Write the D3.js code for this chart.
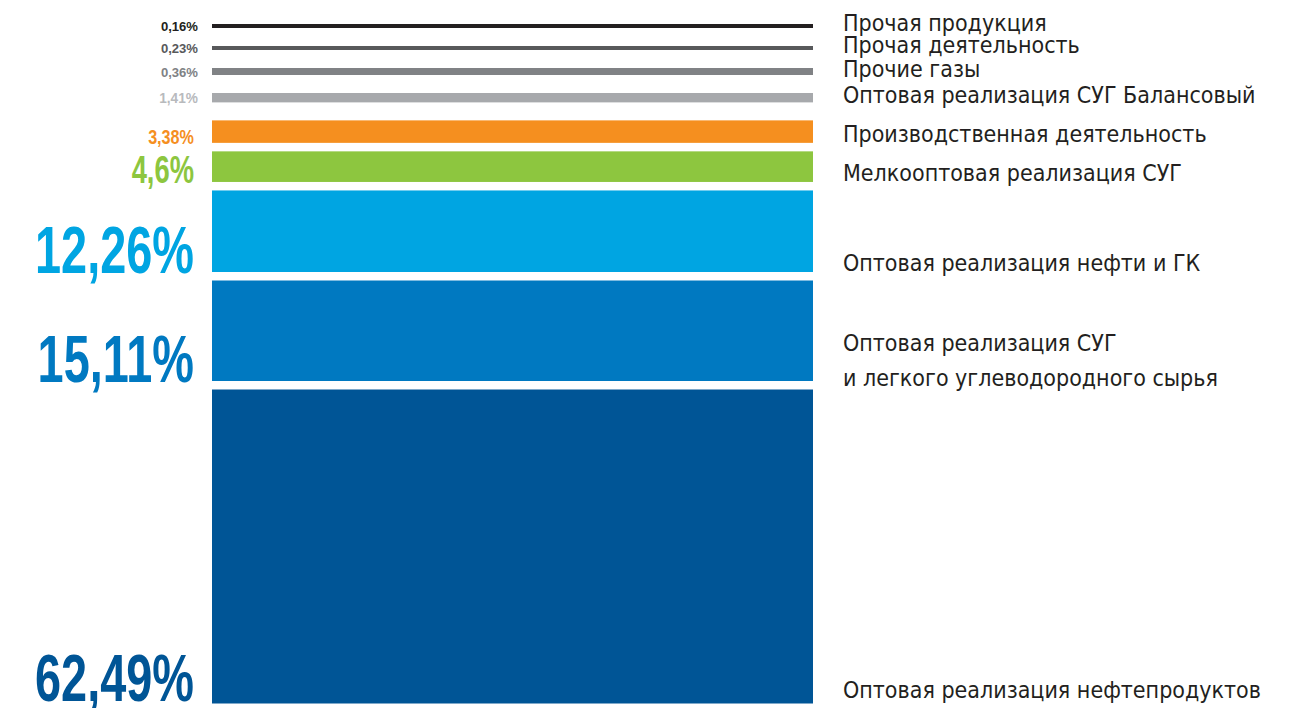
<!DOCTYPE html>
<html>
<head>
<meta charset="utf-8">
<script src="https://cdn.jsdelivr.net/npm/d3@7"></script>
<style>
   html, body { margin: 0; padding: 0; background: #fff; }
</style>
</head>
<body>
<div id="chartContainer"></div>
<script>
'use strict';

// data, top row to bottom row
var categories = [
   "Прочая продукция",
   "Прочая деятельность",
   "Прочие газы",
   "Оптовая реализация СУГ Балансовый",
   "Производственная деятельность",
   "Мелкооптовая реализация СУГ",
   "Оптовая реализация нефти и ГК",
   "Оптовая реализация СУГ\nи легкого углеводородного сырья",
   "Оптовая реализация нефтепродуктов"
];
var shares = [0.16, 0.23, 0.36, 1.41, 3.38, 4.6, 12.26, 15.11, 62.49];
var colors = ["#231f20", "#58595b", "#808285", "#a7a9ac", "#f58f1f", "#8dc63f", "#00a5e2", "#0079c1", "#005596"];

var width = 1301,
   height = 708;

var svg = d3.select("#chartContainer")
   .append("svg")
   .attr("width", width)
   .attr("height", height);

// row thickness: linear up to 15%, compressed above, small rows get a minimum stroke
var hScale = d3.scaleLinear()
   .domain([0, 15.11, 62.49])
   .range([0, 100.5, 314]);
var minThick = d3.scaleThreshold()
   .domain([0.3, 2])
   .range([4, 7, 0]);

var xScale = d3.scaleLinear()
   .domain([0, 1])
   .range([212, 813]);

// stack the rows from the top
var rows = [];
var y = 24;
shares.forEach(function (v, i) {
   var h = Math.max(hScale(v), minThick(v));
   rows.push({ name: categories[i], value: v, color: colors[i], y: y, h: h });
   y += h + (h < 10 ? 18 : 8.5);
});

var fmt = function (v) { return String(v).replace(".", ",") + "%"; };

// size of the percent label follows the row thickness
var labelSize = d3.scaleLinear()
   .domain([7, 22.5, 30.6, 81.5])
   .range([13.5, 19.5, 38, 67])
   .clamp(true);
// horizontal squeeze to get a condensed look out of Liberation Sans Bold
var labelSqueeze = d3.scaleLinear()
   .domain([7, 22.5, 30.6, 81.5])
   .range([0.97, 0.83, 0.72, 0.70])
   .clamp(true);

svg.append("g")
   .attr("class", "bars")
   .selectAll("rect")
   .data(rows)
   .enter()
   .append("rect")
   .attr("x", xScale(0))
   .attr("y", function (d) { return d.y; })
   .attr("width", xScale(1) - xScale(0))
   .attr("height", function (d) { return d.h; })
   .attr("fill", function (d) { return d.color; });

// percent labels on the left
svg.append("g")
   .attr("class", "values")
   .selectAll("text")
   .data(rows)
   .enter()
   .append("text")
   .attr("text-anchor", "end")
   .attr("transform", function (d) {
      var thin = d.h < 10;
      var tx = thin ? 198 : 194;
      var ty = thin ? d.y + d.h / 2 + 5 : Math.min(d.y + d.h + 1, height - 7);
      return "translate(" + tx + "," + ty + ") scale(" + labelSqueeze(d.h) + ",1)";
   })
   .style("font-family", "'Liberation Sans', Arial, sans-serif")
   .style("font-weight", "bold")
   .style("font-size", function (d) { return labelSize(d.h) + "px"; })
   .attr("fill", function (d) { return d.value === 1.41 ? "#b8babd" : d.color; })
   .text(function (d) { return fmt(d.value); });

// category names on the right
var names = svg.append("g")
   .attr("class", "names")
   .selectAll("text")
   .data(rows)
   .enter()
   .append("text")
   .attr("x", 843)
   .attr("y", function (d) {
      var lines = d.name.split("\n").length;
      if (d.h < 10) return d.y + d.h / 2 + 5;
      return Math.min(d.y + d.h - 1, height - 10) - (lines - 1) * 29;
   })
   .style("font-family", "'DejaVu Sans Condensed', 'Liberation Sans', sans-serif")
   .style("font-size", "23px")
   .attr("fill", "#231f20");

names.selectAll("tspan")
   .data(function (d) { return d.name.split("\n"); })
   .enter()
   .append("tspan")
   .attr("x", 843)
   .attr("dy", function (d, i) { return i === 0 ? 0 : 35; })
   .text(function (d) { return d; });
</script>
</body>
</html>
